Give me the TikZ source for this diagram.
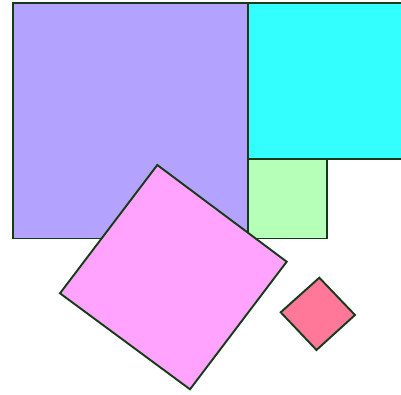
\documentclass[tikz,border=0pt]{standalone}
\begin{document}
\begin{tikzpicture}[x=1pt,y=-1pt]
\definecolor{cpurple}{HTML}{B3A3FF}
\definecolor{ccyan}{HTML}{33FFFF}
\definecolor{cgreen}{HTML}{B5FFB9}
\definecolor{cpink}{HTML}{FFA3FF}
\definecolor{cred}{HTML}{FF7799}
\definecolor{cedge}{HTML}{153A18}
\useasboundingbox (0,0) rectangle (401,395);
\clip (0,0) rectangle (401,395);
\tikzset{shp/.style={draw=cedge, line width=1.9pt, line join=miter}}
\filldraw[shp, fill=cpurple] (12.7,3.3) rectangle (248,238.5);
\filldraw[shp, fill=ccyan] (248,3.3) rectangle (410,159);
\filldraw[shp, fill=cgreen] (248,159) rectangle (327.3,238.5);
\filldraw[shp, fill=cpink] (157.3,165) -- (286.7,261.7) -- (190,389.3) -- (60,293.3) -- cycle;
\filldraw[shp, fill=cred] (319.3,277.7) -- (355,315) -- (316.5,350) -- (280.7,312.3) -- cycle;
\end{tikzpicture}
\end{document}
